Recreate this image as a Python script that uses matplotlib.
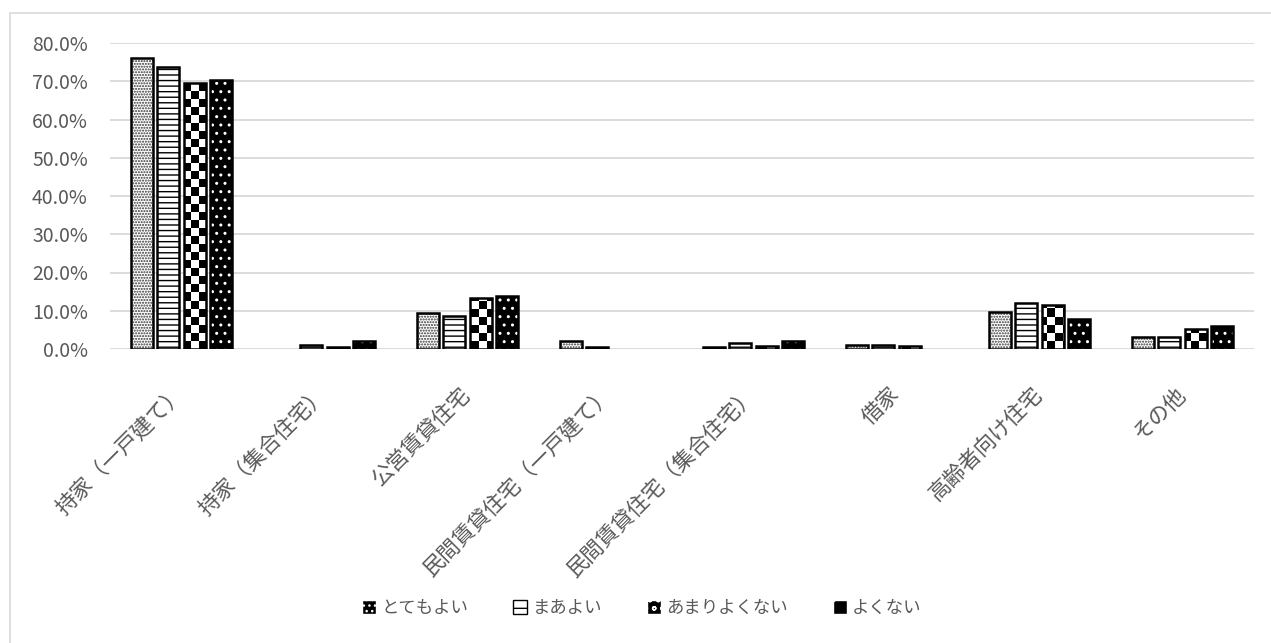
import numpy as np
import matplotlib
matplotlib.use("Agg")
import matplotlib.pyplot as plt
from matplotlib.patches import Rectangle, Patch

plt.rcParams['font.family'] = ['Noto Sans CJK JP', 'DejaVu Sans']
plt.rcParams['hatch.linewidth'] = 1.0

categories = ['持家（一戸建て）', '持家（集合住宅）', '公営賃貸住宅', '民間賃貸住宅（一戸建て）',
              '民間賃貸住宅（集合住宅）', '借家', '高齢者向け住宅', 'その他']
series_names = ['とてもよい', 'まあよい', 'あまりよくない', 'よくない']
totemo = [76.0, 0.0, 9.3, 2.1, 0.5, 1.1, 9.6, 3.2]
maa = [73.7, 1.1, 8.7, 0.5, 1.5, 1.1, 11.9, 3.2]
amari = [69.6, 0.5, 13.3, 0.0, 0.7, 0.7, 11.4, 5.2]
yokunai = [70.3, 2.2, 13.8, 0.0, 2.1, 0.0, 7.9, 5.9]
yticks = [0, 10, 20, 30, 40, 50, 60, 70, 80]

gray = '#595959'
grid = '#d9d9d9'

fig = plt.figure(figsize=(12.71, 6.43), dpi=100)
ax = fig.add_axes([110 / 1271, 1 - 349 / 643, 1144 / 1271, 306 / 643])

# outer chart frame (only left / top edges visible in the crop)
fig.patches.append(Rectangle((10 / 1271, -0.1), 1.2, 1.1 - 13 / 643, transform=fig.transFigure,
                             fill=False, edgecolor=grid, linewidth=1.2))

x = np.arange(len(categories))
w = 0.154
step = 0.184
offsets = [-1.5 * step, -0.5 * step, 0.5 * step, 1.5 * step]

ax.set_xlim(-0.5, len(categories) - 0.5)
ax.set_ylim(0, 80)

for t in yticks:
    ax.axhline(t, color=grid, linewidth=1.3, zorder=0)

# series 1: fine dots
ax.bar(x + offsets[0], totemo, w, facecolor='white', edgecolor='#333333', hatch='......',
       linewidth=0, zorder=2)
# series 2: horizontal lines
ax.bar(x + offsets[1], maa, w, facecolor='white', edgecolor='black', hatch='---',
       linewidth=0, zorder=2)
# series 3: checkerboard, drawn as image clipped to each bar
b3 = ax.bar(x + offsets[2], amari, w, facecolor='white', linewidth=0, zorder=2)
checker = np.indices((38, 143)).sum(axis=0) % 2
for bar in b3:
    if bar.get_height() <= 0:
        continue
    im = ax.imshow(checker, extent=(-0.5, len(categories) - 0.5, 0, 80), cmap='binary',
                   aspect='auto', interpolation='nearest', zorder=2.5, origin='lower')
    im.set_clip_path(bar)
# series 4: black with white dots
ax.bar(x + offsets[3], yokunai, w, facecolor='black', edgecolor='white', hatch='..',
       linewidth=0, zorder=2)

# outlines
for off, vals in zip(offsets, [totemo, maa, amari, yokunai]):
    v = np.array(vals)
    ax.bar((x + off)[v > 0], v[v > 0], w, fill=False, edgecolor='black', linewidth=1.8, zorder=3)

ax.set_xlim(-0.5, len(categories) - 0.5)
ax.set_ylim(0, 80)

for s in ax.spines.values():
    s.set_visible(False)
ax.tick_params(length=0)
ax.set_yticks(yticks)
ax.set_yticklabels([f'{t:.1f}%' for t in yticks], color=gray, fontsize=14)
ax.tick_params(axis='y', pad=16)
ax.set_xticks(x)
ax.set_xticklabels(categories, color=gray, fontsize=15.5, rotation=45, ha='right',
                   va='center', rotation_mode='anchor')
ax.tick_params(axis='x', pad=30)

handles = [
    Patch(facecolor='black', edgecolor='white', hatch='...'),
    Patch(facecolor='white', edgecolor='black', hatch='-'),
    Patch(facecolor='black', edgecolor='white', hatch='oo'),
    Patch(facecolor='black', edgecolor='white', hatch='.'),
]
leg = fig.legend(handles, series_names, loc='center', bbox_to_anchor=(0.505, 1 - 608 / 643),
                 ncol=4, frameon=False, fontsize=12.5, handlelength=0.8, handleheight=0.8,
                 handletextpad=0.3, columnspacing=2.6)
for t in leg.get_texts():
    t.set_color(gray)

fig.savefig('out.png', dpi=100)
